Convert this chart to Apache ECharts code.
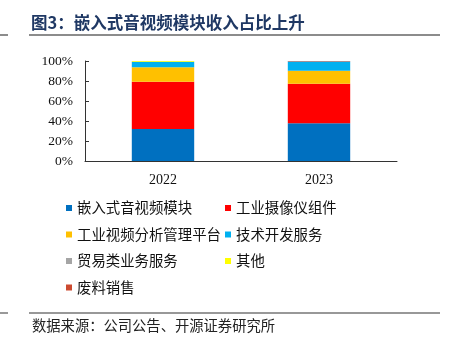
<!DOCTYPE html>
<html><head><meta charset="utf-8">
<script src="https://cdn.jsdelivr.net/npm/echarts@6/dist/echarts.min.js"></script>
<style>html,body{margin:0;padding:0;background:#fff;}#c{width:452px;height:341px;}</style>
</head><body><div id="c"></div>
<script>
const categories = ['2022', '2023'];
const seriesNames = ['嵌入式音视频模块', '工业摄像仪组件', '工业视频分析管理平台', '技术开发服务', '贸易类业务服务', '其他', '废料销售'];
const embedded = [32.0, 37.7];
const cameraParts = [47.3, 39.6];
const platform = [14.4, 13.0];
const techService = [5.6, 9.2];
const trade = [0.0, 0.0];
const others = [0.7, 0.0];
const scrap = [0.0, 0.5];
const yTicks = [0, 20, 40, 60, 80, 100];
const titleText = '图3：嵌入式音视频模块收入占比上升';
const sourceText = '数据来源：公司公告、开源证券研究所';

const colors = ['#0070C0', '#FF0000', '#FFC000', '#00B0F0', '#A5A5A5', '#FFFF00', '#CC4A30'];
const allData = [embedded, cameraParts, platform, techService, trade, others, scrap];
const cjk = '"Noto Sans CJK SC", sans-serif';
const serif = '"Liberation Serif", "Times New Roman", serif';

const chart = echarts.init(document.getElementById('c'), null, {renderer: 'canvas'});
const legendText = {fontFamily: cjk, fontSize: 14.4, color: '#111', lineHeight: 16};
chart.setOption({
  animation: false,
  color: colors,
  grid: {left: 85, right: 55, top: 61, bottom: 180},
  legend: [
    {data: [seriesNames[0], seriesNames[2], seriesNames[4], seriesNames[6]], orient: 'vertical', left: 66, top: 200,
     itemWidth: 6, itemHeight: 6, itemGap: 10.5, icon: 'rect', textStyle: legendText, padding: 0},
    {data: [seriesNames[1], seriesNames[3], seriesNames[5]], orient: 'vertical', left: 225, top: 200,
     itemWidth: 6, itemHeight: 6, itemGap: 10.5, icon: 'rect', textStyle: legendText, padding: 0}
  ],
  xAxis: {
    type: 'category', data: categories,
    axisLine: {lineStyle: {color: '#333', width: 1}},
    axisTick: {inside: true, length: 4, lineStyle: {color: '#333'}},
    axisLabel: {fontFamily: serif, fontSize: 14, color: '#111', margin: 12}
  },
  yAxis: {
    type: 'value', min: 0, max: 100, interval: 20,
    axisLine: {show: true, lineStyle: {color: '#333', width: 1}},
    axisTick: {show: true, inside: true, length: 4, lineStyle: {color: '#333'}},
    splitLine: {show: false},
    axisLabel: {fontFamily: serif, fontSize: 13.5, color: '#111', margin: 12,
      formatter: v => yTicks.includes(v) ? v + '%' : ''}
  },
  series: seriesNames.map((n, i) => ({
    name: n, type: 'bar', stack: 'total', data: allData[i], barWidth: '40%',
    itemStyle: {color: colors[i]}
  })),
  graphic: [
    {type: 'text', left: 31, top: 14, style: {text: titleText, fontFamily: cjk, fontSize: 16.5, fontWeight: 'bold', fill: '#1F3864'}},
    {type: 'rect', shape: {x: 29, y: 34, width: 411, height: 2}, style: {fill: '#8c8c8c'}},
    {type: 'rect', shape: {x: 0, y: 34, width: 8, height: 2}, style: {fill: '#8c8c8c'}},
    {type: 'rect', shape: {x: 29, y: 312.5, width: 411, height: 1}, style: {fill: '#333'}},
    {type: 'rect', shape: {x: 0, y: 312.5, width: 8, height: 1}, style: {fill: '#333'}},
    {type: 'text', left: 32, top: 318, style: {text: sourceText, fontFamily: cjk, fontSize: 14.3, fill: '#222'}}
  ]
});
</script></body></html>
